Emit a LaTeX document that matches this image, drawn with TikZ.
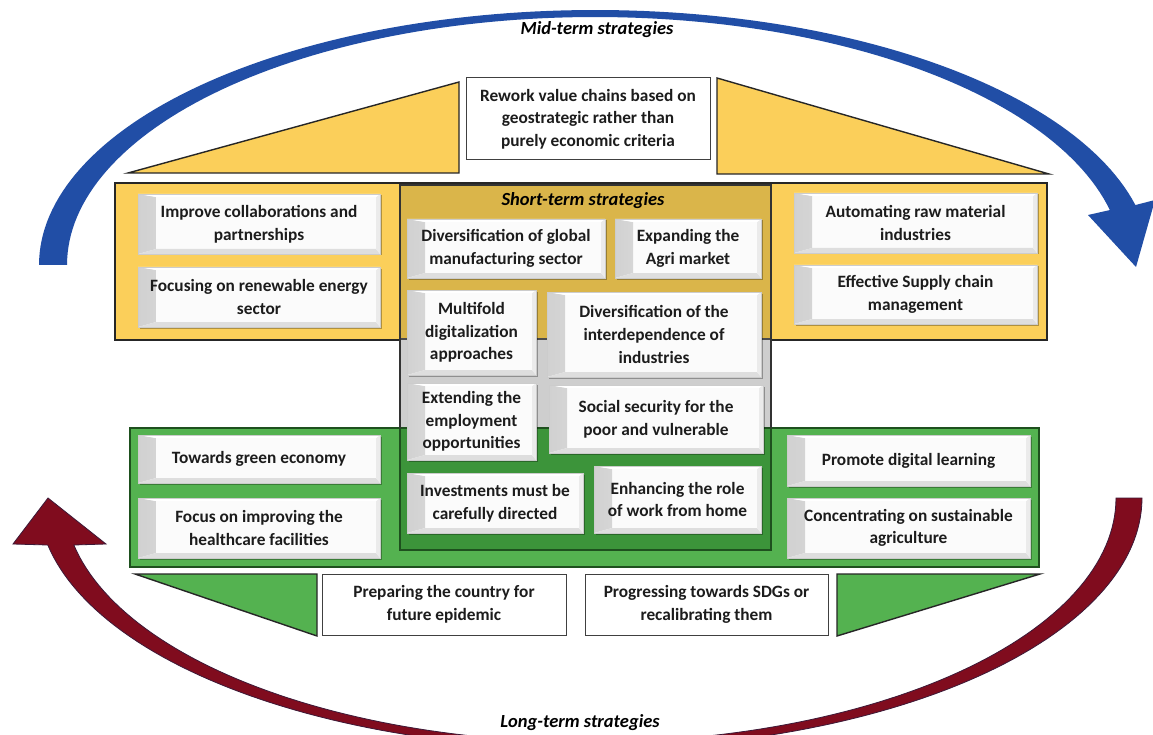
\documentclass[tikz,border=0pt]{standalone}
\usepackage{fontspec}
\setmainfont{Carlito}
\usetikzlibrary{shadows}
\definecolor{ybase}{RGB}{251,207,90}
\definecolor{ydark}{RGB}{218,181,74}
\definecolor{gbase}{RGB}{84,178,80}
\definecolor{gdark}{RGB}{60,148,58}
\definecolor{gline}{RGB}{30,80,30}
\definecolor{cgrey}{RGB}{206,206,206}
\definecolor{arcblue}{RGB}{33,78,166}
\definecolor{arcred}{RGB}{128,12,30}
\definecolor{arcredline}{RGB}{60,25,55}
\definecolor{txt}{RGB}{28,28,28}
\tikzset{
  boxfont/.style={font=\bfseries\fontsize{17.3}{22.7}\selectfont, text=txt},
  bev/.style={rectangle, inner sep=0pt, align=center, boxfont,
    fill=gray!3, draw=gray!40, line width=0.4pt,
    drop shadow={shadow xshift=1.5pt,shadow yshift=-1.5pt,opacity=0.3,fill=black},
    path picture={
      \shade[left color=gray!36, right color=gray!4]
        (path picture bounding box.south west) -- (path picture bounding box.north west)
        -- ([xshift=18pt,yshift=-3pt]path picture bounding box.north west)
        -- ([xshift=18pt,yshift=5pt]path picture bounding box.south west) -- cycle;
      \fill[gray!26]
        (path picture bounding box.south west) -- ([xshift=18pt,yshift=5pt]path picture bounding box.south west)
        -- ([xshift=-4pt,yshift=5pt]path picture bounding box.south east)
        -- (path picture bounding box.south east) -- cycle;
      \fill[gray!16]
        (path picture bounding box.south east) -- ([xshift=-4pt,yshift=5pt]path picture bounding box.south east)
        -- ([xshift=-4pt,yshift=-3pt]path picture bounding box.north east)
        -- (path picture bounding box.north east) -- cycle;
      \fill[white]
        (path picture bounding box.north west) -- ([xshift=18pt,yshift=-3pt]path picture bounding box.north west)
        -- ([xshift=-4pt,yshift=-3pt]path picture bounding box.north east)
        -- (path picture bounding box.north east) -- cycle;
    }},
  plainbox/.style={rectangle, inner sep=0pt, align=center, boxfont,
    fill=white, draw=black!75, line width=1pt},
  titletext/.style={font=\bfseries\itshape\fontsize{18.5}{21}\selectfont, text=black, inner sep=1pt},
  bandline/.style={draw=black!85, line width=1.4pt}
}
\begin{document}
\begin{tikzpicture}[x=1pt,y=-1pt]
\useasboundingbox (0,0) rectangle (1153,735);
\fill[white] (0,0) rectangle (1153,735);

% blue arc (mid-term)
\fill[arcblue] plot[domain=180:346.4,samples=120] ({595+556*cos(\x)},{265+255*sin(\x)})
  -- (1155,200) -- (1136,267) -- (1088,215)
  -- plot[domain=347.2:180,samples=120] ({595+528*cos(\x)},{265+248*sin(\x)}) -- cycle;

% red arc (long-term)
\filldraw[fill=arcred, draw=arcredline, line width=0.8pt]
  plot[domain=0:169.2,samples=120] ({590+552*cos(\x)},{498+250.9*sin(\x)})
  -- (13,544) -- (48,498) -- (106,544)
  -- plot[domain=168.9:0,samples=120] ({590+526*cos(\x)},{498+244.2*sin(\x)}) -- cycle;

% triangles
\filldraw[fill=ybase, bandline] (128,173) -- (459,82) -- (459,173) -- cycle;
\filldraw[fill=ybase, bandline] (717,78) -- (717,174) -- (1049,174) -- cycle;
\filldraw[fill=gbase, bandline] (135,574) -- (317,574) -- (317,636) -- cycle;
\filldraw[fill=gbase, bandline] (837,574) -- (1040,574) -- (837,636) -- cycle;

% bands
\filldraw[fill=ybase, bandline] (115,183) rectangle (1047,340);
\filldraw[fill=gbase, draw=gline, line width=1.4pt] (130,428) rectangle (1039,567);

% central short-term box
\fill[ydark] (400,185) rectangle (771,339);
\fill[cgrey] (400,339) rectangle (771,428);
\fill[gdark] (400,428) rectangle (771,550);
\draw[black!70, line width=1.2pt] (400,339) -- (771,339);
\draw[gline, line width=1.2pt] (400,428) -- (771,428);
\draw[black!80, line width=1.6pt] (400,185) rectangle (771,550);
\draw[gline, line width=1.6pt] (400,428) -- (400,550) -- (771,550) -- (771,428);

% titles
\node[titletext] (mid) at (597,30) {Mid-term strategies};
\node[titletext] (short) at (583,201) {Short-term strategies};
\node[titletext] (long) at (580,723) {Long-term strategies};

% plain white boxes
\node[plainbox, minimum width=244pt, minimum height=82pt] (w1) at (588,119)
  {Rework value chains based on\\geostrategic rather than\\purely economic criteria};
\node[plainbox, minimum width=244pt, minimum height=61pt] (w2) at (444,604.5)
  {Preparing the country for\\future epidemic};
\node[plainbox, minimum width=243pt, minimum height=61pt] (w3) at (706.5,604.5)
  {Progressing towards SDGs or\\recalibrating them};

% yellow band boxes
\node[bev, minimum width=242pt, minimum height=60pt] (a1) at (259,224)
  {Improve collaborations and\\partnerships};
\node[bev, minimum width=242pt, minimum height=60pt] (a2) at (259,297)
  {Focusing on renewable energy\\sector};
\node[bev, minimum width=243pt, minimum height=60pt] (b1) at (915.5,223)
  {Automating raw material\\industries};
\node[bev, minimum width=243pt, minimum height=59pt] (b2) at (915.5,294.5)
  {Effective Supply chain\\management};

% green band boxes
\node[bev, minimum width=242pt, minimum height=48pt] (c1) at (259,459)
  {Towards green economy};
\node[bev, minimum width=242pt, minimum height=60pt] (c2) at (259,528)
  {Focus on improving the\\healthcare facilities};
\node[bev, minimum width=243pt, minimum height=51pt] (d1) at (908.5,460.5)
  {Promote digital learning};
\node[bev, minimum width=243pt, minimum height=60pt] (d2) at (908.5,528)
  {Concentrating on sustainable\\agriculture};

% central boxes
\node[bev, minimum width=198pt, minimum height=59pt] (e1) at (506,248.5)
  {Diversification of global\\manufacturing sector};
\node[bev, minimum width=146pt, minimum height=59pt] (e2) at (688,248.5)
  {Expanding the\\Agri market};
\node[bev, minimum width=129pt, minimum height=85pt] (e3) at (471.5,332.5)
  {Multifold\\digitalization\\approaches};
\node[bev, minimum width=214pt, minimum height=85pt] (e4) at (654,334.5)
  {Diversification of the\\interdependence of\\industries};
\node[bev, minimum width=129pt, minimum height=77pt] (e5) at (471.5,421.5)
  {Extending the\\employment\\opportunities};
\node[bev, minimum width=214pt, minimum height=68pt] (e6) at (656,419)
  {Social security for the\\poor and vulnerable};
\node[bev, minimum width=176pt, minimum height=60pt] (e7) at (495,503)
  {Investments must be\\carefully directed};
\node[bev, minimum width=167pt, minimum height=67pt] (e8) at (677.5,499.5)
  {Enhancing the role\\of work from home};
\end{tikzpicture}
\end{document}
